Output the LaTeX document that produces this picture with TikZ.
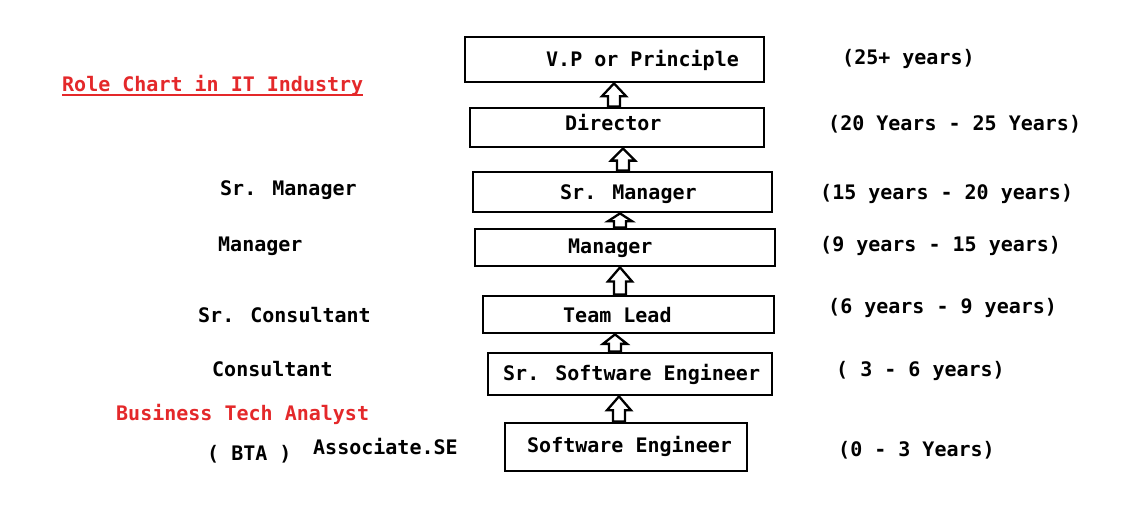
\documentclass[tikz,border=0pt]{standalone}
\usepackage{fontspec}
\setmainfont{DejaVu Sans Mono}
\usetikzlibrary{calc}
\definecolor{rolered}{RGB}{228,40,42}
\newcommand\blockup[3]{%
  \draw[blockarrow] let \p1=(#1.north), \p2=(#2.south),
     \n2={min(14pt,0.55*(\y2-\y1))} in
     ({#3-6pt},\y1) -- ({#3-6pt},{\y2-\n2}) -- ({#3-12pt},{\y2-\n2}) -- (#3,\y2)
     -- ({#3+12pt},{\y2-\n2}) -- ({#3+6pt},{\y2-\n2}) -- ({#3+6pt},\y1) -- cycle;}
\begin{document}
\begin{tikzpicture}[x=1pt,y=-1pt,
  font=\fontsize{20}{24}\selectfont\bfseries,
  rolebox/.style={draw, line width=2.8pt, inner sep=0pt},
  txt/.style={inner sep=0pt, anchor=west, text height=14.6pt, text depth=0pt},
  redtxt/.style={txt, text=rolered},
  blockarrow/.style={draw, fill=white, line width=2.3pt, line join=miter}]
\useasboundingbox[fill=white] (0,0) rectangle (1132,505);
% boxes
\node[rolebox, minimum width=299pt, minimum height=45pt] (vp)  at (614.5,59.5) {};
\node[rolebox, minimum width=294pt, minimum height=39pt] (dir) at (617,127.5) {};
\node[rolebox, minimum width=299pt, minimum height=40pt] (srm) at (622.5,192) {};
\node[rolebox, minimum width=300pt, minimum height=37pt] (mgr) at (625,247.5) {};
\node[rolebox, minimum width=291pt, minimum height=37pt] (tl)  at (628.5,314.5) {};
\node[rolebox, minimum width=284pt, minimum height=42pt] (sse) at (630,374) {};
\node[rolebox, minimum width=242pt, minimum height=48pt] (se)  at (626,447) {};
% box texts
\node[txt] (tvp)  at (546,59)  {V.P or Principle};
\node[txt] (tdir) at (565,123) {Director};
\node[txt] (tsrm) at (560,192) {Sr. Manager};
\node[txt] (tmgr) at (568,246) {Manager};
\node[txt] (ttl)  at (563,315) {Team Lead};
\node[txt] (tsse) at (503,373) {Sr. Software Engineer};
\node[txt] (tse)  at (527,445) {Software Engineer};
% arrows
\blockup{dir}{vp}{614pt}
\blockup{srm}{dir}{623pt}
\blockup{mgr}{srm}{620pt}
\blockup{tl}{mgr}{620pt}
\blockup{sse}{tl}{615pt}
\blockup{se}{sse}{619pt}
% left texts
\node[redtxt] (title) at (62,84) {Role Chart in IT Industry};
\draw[rolered, line width=1.8pt] ([yshift=-3.5pt]title.south west) -- ([yshift=-3.5pt]title.south east);
\node[txt] (lsrm) at (220,188) {Sr. Manager};
\node[txt] (lmgr) at (218,244) {Manager};
\node[txt] (lsrc) at (198,315) {Sr. Consultant};
\node[txt] (lcon) at (212,369) {Consultant};
\node[redtxt] (lbta) at (116,413) {Business Tech Analyst};
\node[txt] (lbtb) at (207,453) {( BTA )};
\node[txt] (lase) at (313,447) {Associate.SE};
% right texts
\node[txt] (r1) at (842,57)  {(25+ years)};
\node[txt] (r2) at (828,123) {(20 Years - 25 Years)};
\node[txt] (r3) at (820,192) {(15 years - 20 years)};
\node[txt] (r4) at (820,244) {(9 years - 15 years)};
\node[txt] (r5) at (828,306) {(6 years - 9 years)};
\node[txt] (r6) at (836,369) {( 3 - 6 years)};
\node[txt] (r7) at (838,449) {(0 - 3 Years)};
\end{tikzpicture}
\end{document}
